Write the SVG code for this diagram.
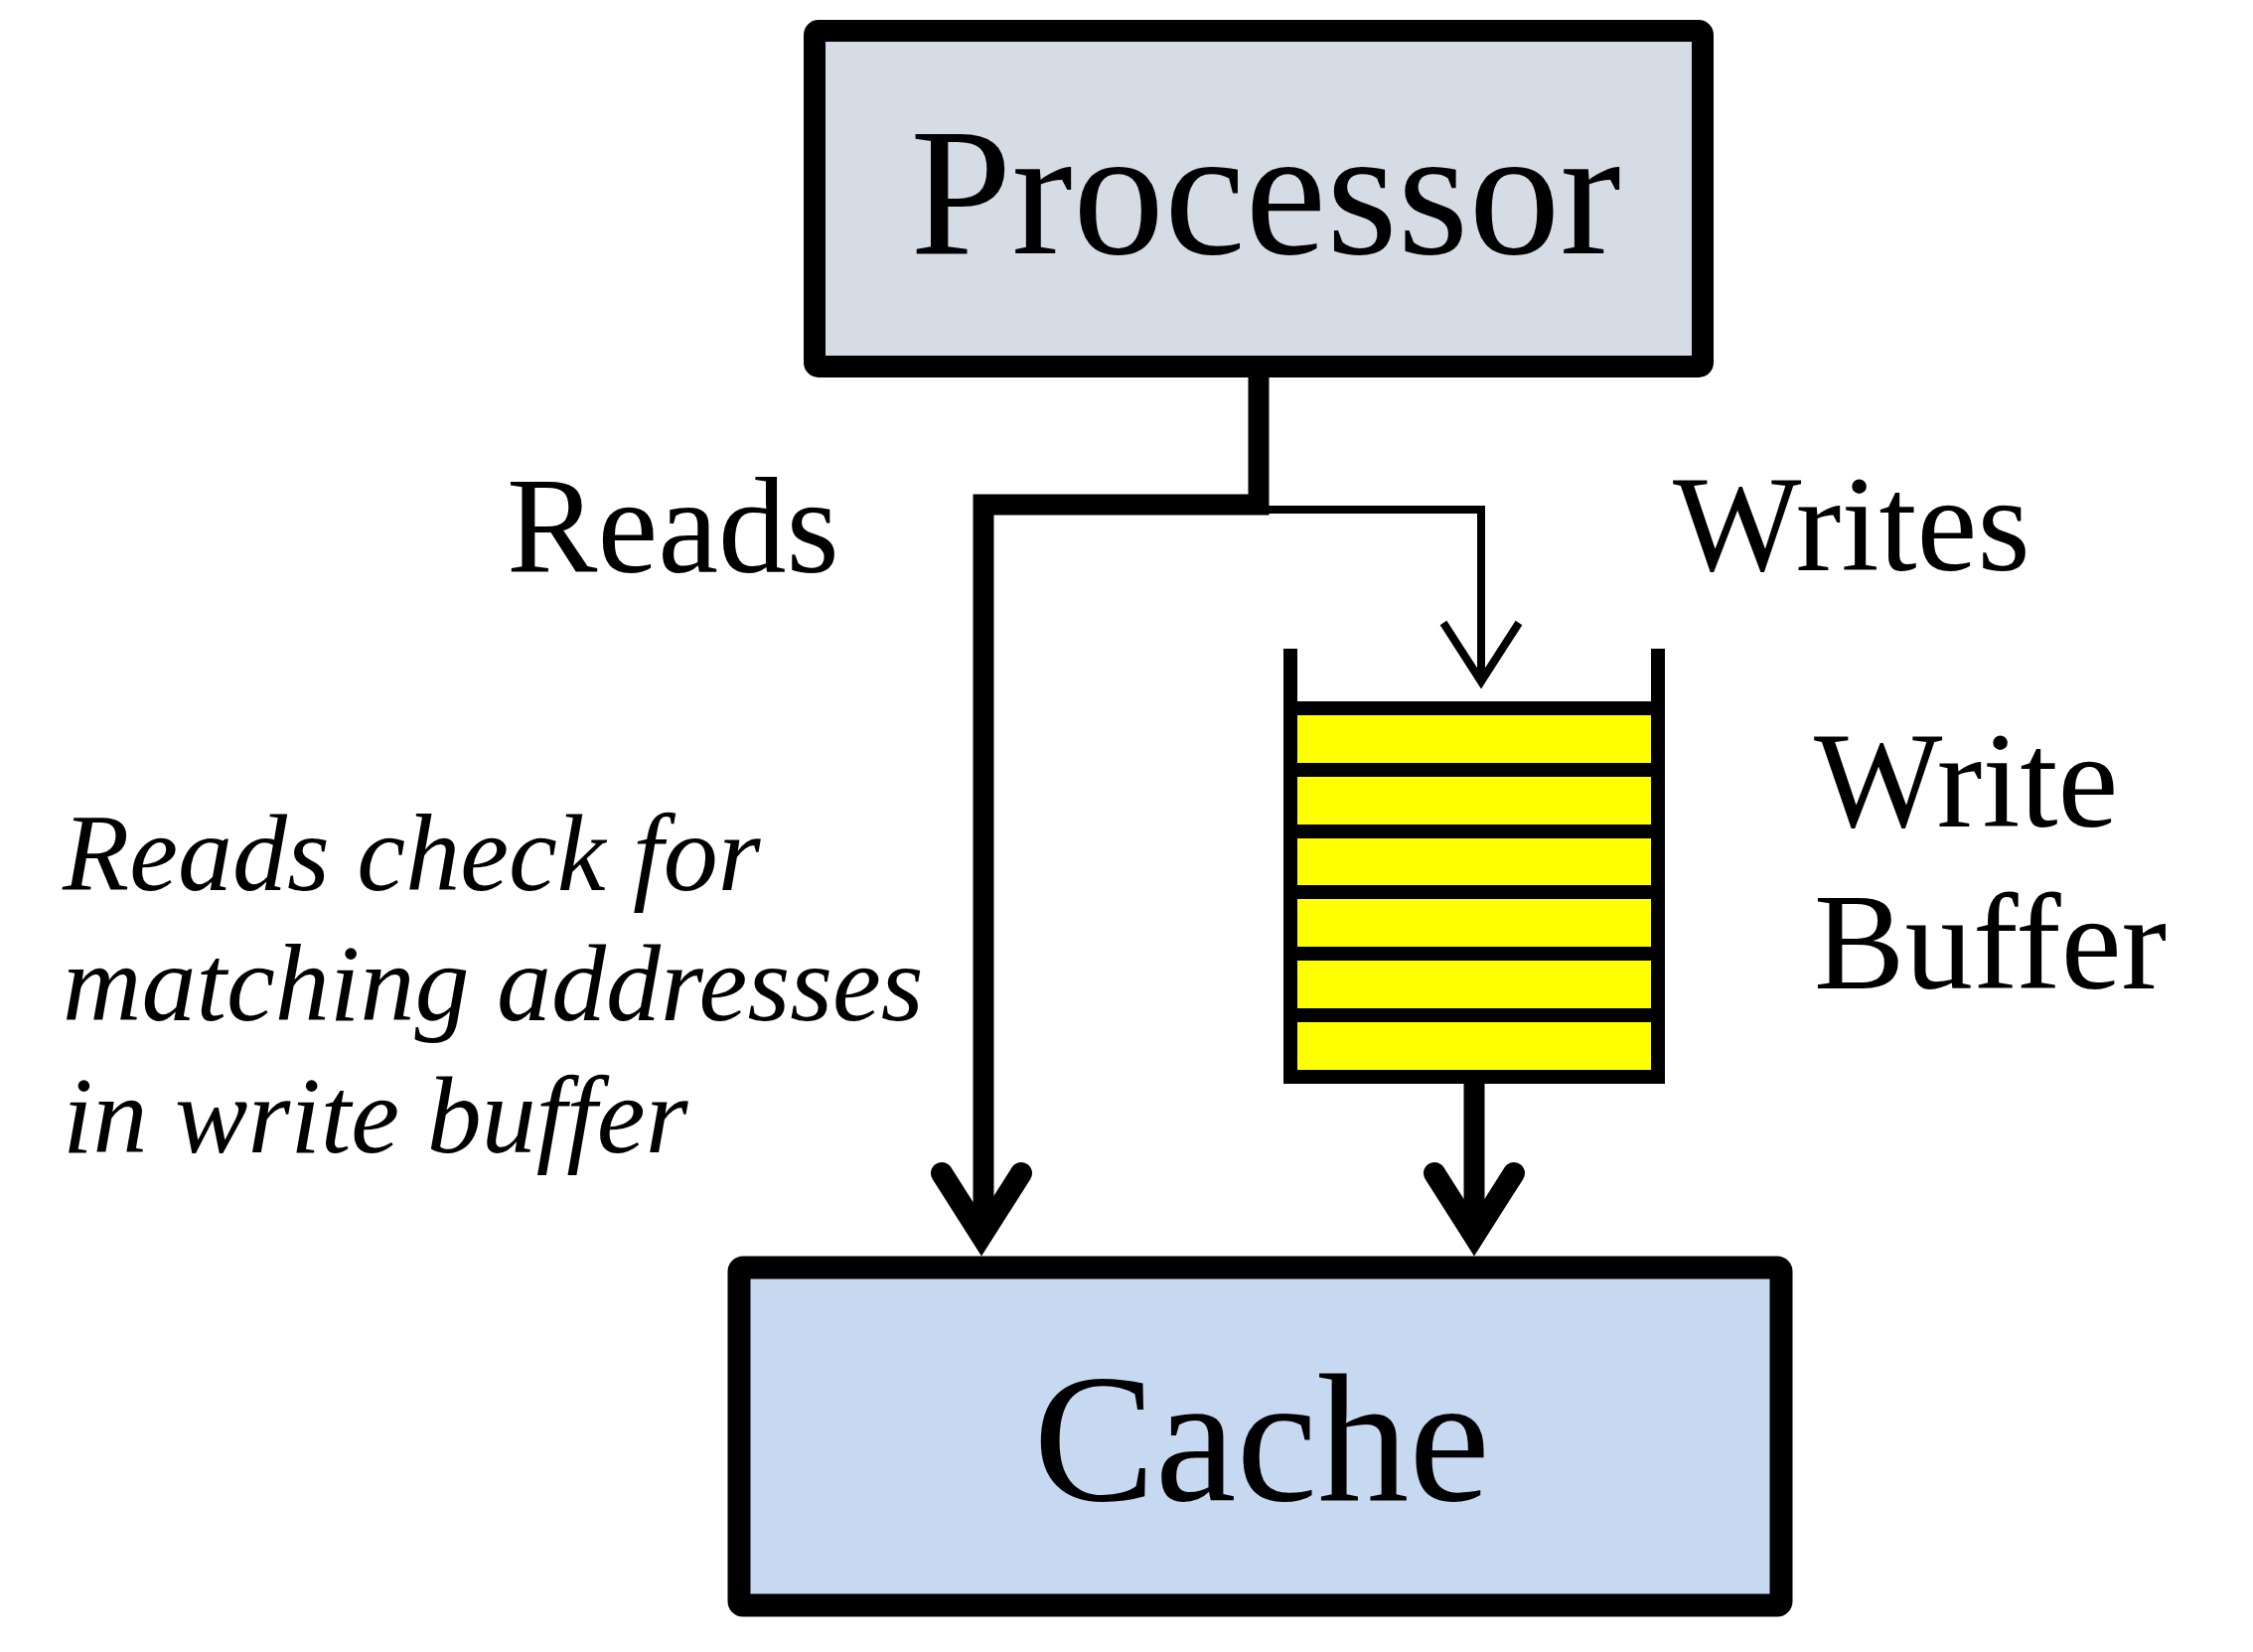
<svg xmlns="http://www.w3.org/2000/svg" width="2268" height="1663" viewBox="0 0 2268 1663">
<style>
.box{stroke:#000;stroke-width:22;stroke-linejoin:round}
.t{font-family:"Liberation Serif","Times New Roman",serif;fill:#000}
.big{font-size:184px}
.lbl{font-size:137px}
.it{font-size:110px;font-style:italic}
.thick{fill:none;stroke:#000;stroke-width:21;stroke-linejoin:miter}
.thin{fill:none;stroke:#000;stroke-width:8;stroke-linejoin:miter}
.head{fill:none;stroke:#000;stroke-width:22;stroke-linecap:round;stroke-linejoin:miter;stroke-miterlimit:10}
.slot{stroke:#000;stroke-width:14}
</style>
<rect width="2268" height="1663" fill="#fff"/>
<g id="processor">
<rect class="box" x="820" y="31" width="894" height="338" rx="4" fill="#D6DCE5"/>
<text class="t big" x="1274" y="255" text-anchor="middle">Processor</text>
</g>
<g id="cache">
<rect class="box" x="744" y="1276" width="1049" height="340" rx="4" fill="#C6D9F0" style="stroke-width:23"/>
<text class="t big" x="1270" y="1510" text-anchor="middle">Cache</text>
</g>
<g id="write-buffer">
<rect x="1299" y="713" width="370" height="371" fill="#FFFF00"/>
<line class="slot" x1="1299" y1="653" x2="1299" y2="1091"/>
<line class="slot" x1="1669" y1="653" x2="1669" y2="1091"/>
<line class="slot" x1="1292" y1="713" x2="1676" y2="713"/>
<line class="slot" x1="1292" y1="775" x2="1676" y2="775"/>
<line class="slot" x1="1292" y1="837" x2="1676" y2="837"/>
<line class="slot" x1="1292" y1="898" x2="1676" y2="898"/>
<line class="slot" x1="1292" y1="960" x2="1676" y2="960"/>
<line class="slot" x1="1292" y1="1022" x2="1676" y2="1022"/>
<line class="slot" x1="1292" y1="1084" x2="1676" y2="1084"/>
<text class="t lbl" x="1826" y="832">Write</text>
<text class="t lbl" x="1826" y="995">Buffer</text>
</g>
<g id="connectors">
<polyline class="thick" points="1267,380 1267,508 990,508 990,1240"/>
<polyline class="head" points="948,1181 988,1244 1028,1181"/>
<polyline class="thin" points="1267,513 1491,513 1491,686"/>
<polyline class="thin" points="1453,627 1491,686 1529,627"/>
<line x1="1484" y1="1091" x2="1484" y2="1240" stroke="#000" stroke-width="21"/>
<polyline class="head" points="1444,1181 1484,1244 1524,1181"/>
</g>
<g id="labels">
<text class="t lbl" x="510" y="576">Reads</text>
<text class="t lbl" x="1684" y="574">Writes</text>
<text class="t it" x="63" y="896">Reads check for</text>
<text class="t it" x="63" y="1027">matching addresses</text>
<text class="t it" x="63" y="1160">in write buffer</text>
</g>
</svg>
